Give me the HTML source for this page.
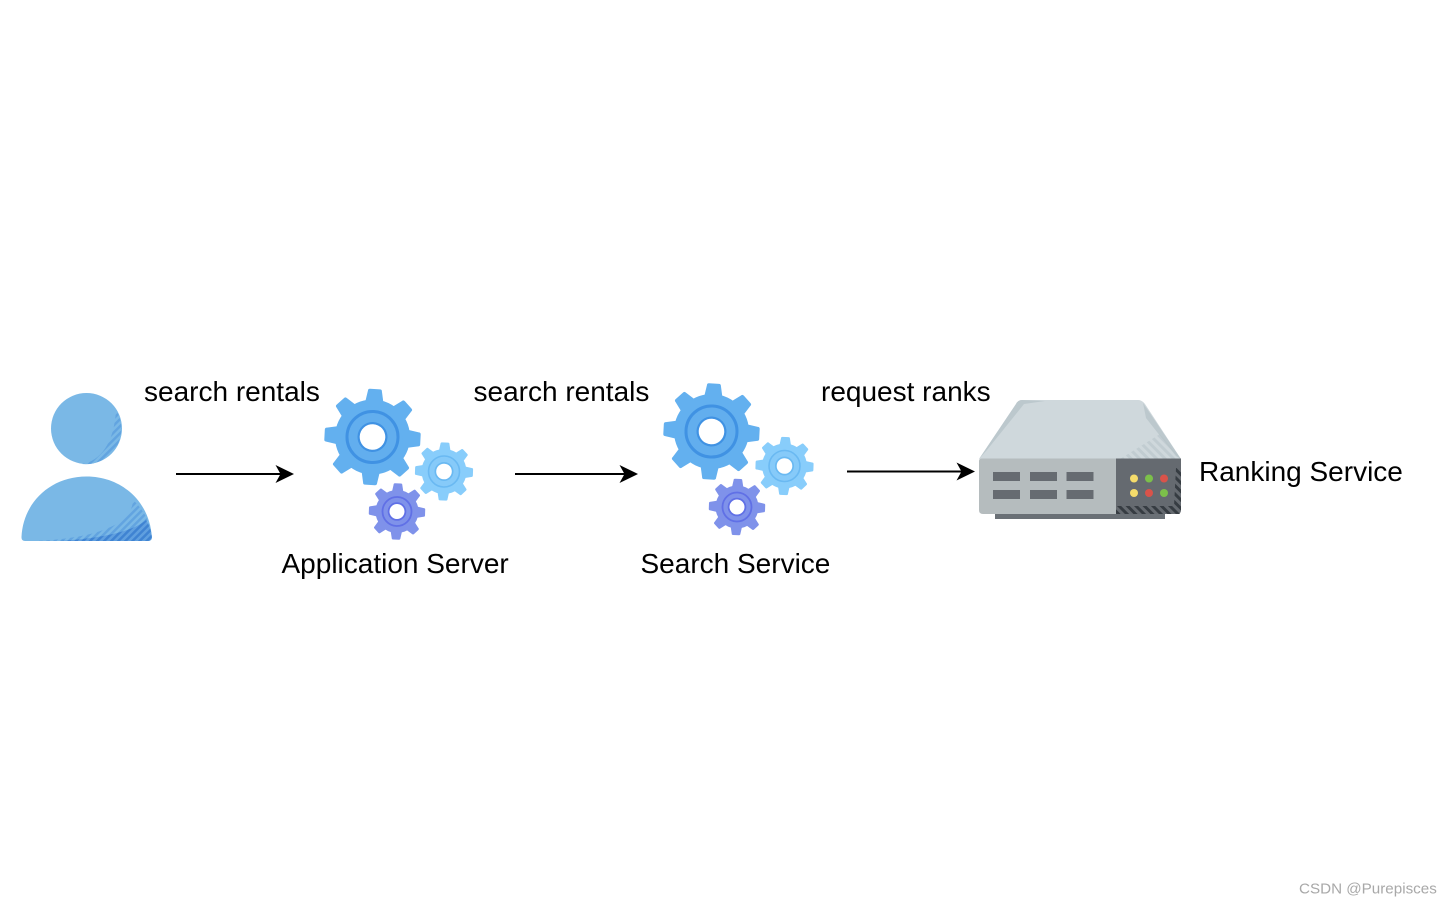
<!DOCTYPE html>
<html>
<head>
<meta charset="utf-8">
<style>
html,body{margin:0;padding:0;background:#fff;}
svg{display:block;}
text{font-family:"Liberation Sans",Arial,sans-serif;font-size:28px;fill:#000;}
</style>
</head>
<body>
<svg width="1452" height="906" viewBox="0 0 1452 906" xmlns="http://www.w3.org/2000/svg">
<defs>
<pattern id="h1" width="5" height="5" patternUnits="userSpaceOnUse" patternTransform="rotate(45)"><rect width="5" height="5" fill="#7ab8e6"/><rect width="2.500" height="5" fill="#62a4e0"/></pattern>
<pattern id="h1d" width="5" height="5" patternUnits="userSpaceOnUse" patternTransform="rotate(45)"><rect width="5" height="5" fill="#5f9fdf"/><rect width="2.500" height="5" fill="#3f83d2"/></pattern>
<pattern id="h2" width="6" height="6" patternUnits="userSpaceOnUse" patternTransform="rotate(-45)"><rect width="3" height="6" fill="#363c42"/></pattern>
<pattern id="h3" width="6" height="6" patternUnits="userSpaceOnUse" patternTransform="rotate(-45)"><rect width="3" height="6" fill="#b6c2c8" opacity=".55"/></pattern>
<g id="bt"><path d="M-10 -30 L-7 -46 Q-7 -48 -5 -48 L5 -48 Q7 -48 7 -46 L10 -30Z"/></g>
<g id="st"><path d="M-6.500 -17 L-4.500 -27.500 Q-4.500 -29 -3 -29 L3 -29 Q4.500 -29 4.500 -27.500 L6.500 -17Z"/></g>
<g id="bigGear">
<g fill="#63b0ef">
<circle r="37.500"/>
<use href="#bt"/><use href="#bt" transform="rotate(45)"/><use href="#bt" transform="rotate(90)"/><use href="#bt" transform="rotate(135)"/>
<use href="#bt" transform="rotate(180)"/><use href="#bt" transform="rotate(225)"/><use href="#bt" transform="rotate(270)"/><use href="#bt" transform="rotate(315)"/>
</g>
<circle r="25.500" fill="#62aeee" stroke="#4092e3" stroke-width="3"/>
<circle r="15" fill="#4092e3"/>
<circle r="12.800" fill="#fff"/>
</g>
<g id="lightGear">
<g fill="#88cdfb">
<circle r="22.500"/>
<use href="#st"/><use href="#st" transform="rotate(45)"/><use href="#st" transform="rotate(90)"/><use href="#st" transform="rotate(135)"/>
<use href="#st" transform="rotate(180)"/><use href="#st" transform="rotate(225)"/><use href="#st" transform="rotate(270)"/><use href="#st" transform="rotate(315)"/>
</g>
<circle r="15.500" fill="#86caf9" stroke="#6ab9f2" stroke-width="1.600"/>
<circle r="9.500" fill="#6ab9f2"/>
<circle r="7.800" fill="#fff"/>
</g>
<g id="purpleGear">
<g fill="#7f92ea">
<circle r="21.500"/>
<g transform="scale(.97)"><use href="#st"/><use href="#st" transform="rotate(45)"/><use href="#st" transform="rotate(90)"/><use href="#st" transform="rotate(135)"/>
<use href="#st" transform="rotate(180)"/><use href="#st" transform="rotate(225)"/><use href="#st" transform="rotate(270)"/><use href="#st" transform="rotate(315)"/></g>
</g>
<circle r="14.500" fill="#7f92ea" stroke="#6070e6" stroke-width="1.800"/>
<circle r="9.300" fill="#6070e6"/>
<circle r="7.500" fill="#fff"/>
</g>
</defs>

<!-- person -->
<circle cx="86.500" cy="428.500" r="35.500" fill="#7ab8e6"/>
<path d="M116 410 A35.500 35.500 0 0 1 82 464 C100 461 114 444 116 410Z" fill="url(#h1)"/>
<path d="M21.500 537 C23 503 50 476.500 86.500 476.500 C123 476.500 150 503 151.800 537 Q152 541 148 541 L25 541 Q21.300 541 21.500 537Z" fill="#7ab8e6"/>
<path d="M133 500 C145 511 151 525 151.800 537 Q152 541 148 541 L36 541 C80 539 132 530 133 500Z" fill="url(#h1)"/>
<path d="M146 520 C150 527 151.500 532 151.800 537 Q152 541 148 541 L60 541 C90 539 130 534 146 520Z" fill="url(#h1d)"/>

<!-- gears -->
<use href="#bigGear" transform="translate(372.500 437) rotate(3)"/>
<use href="#lightGear" transform="translate(444 471.500) rotate(2)"/>
<use href="#purpleGear" transform="translate(397 511.500) rotate(2)"/>
<use href="#bigGear" transform="translate(711.500 431.500) rotate(3)"/>
<use href="#lightGear" transform="translate(784.500 466) rotate(2)"/>
<use href="#purpleGear" transform="translate(737 507) rotate(2)"/>

<!-- server -->
<path d="M1022 400 L1138 400 Q1142 400 1145 404 L1181 459 L979 459 L1016 404 Q1018 400 1022 400Z" fill="#cfd8dc"/>
<path d="M979 459 L1016 404 Q1018 400 1022 400 L1045 401 L1024 404 L987 450Z" fill="#bcc8cd"/>
<path d="M1143 403 L1181 459 L1176 456 L1146 418Z" fill="#bcc8cd"/>
<path d="M1120 459 L1181 459 L1160 434Z" fill="url(#h3)"/>
<rect x="995" y="512" width="170" height="7" fill="#6a7076"/>
<path d="M982 458.500 L1117 458.500 L1117 514 L983 514 Q979 514 979 510 L979 461 Q979 458.500 982 458.500Z" fill="#b5bcbe"/>
<path d="M1116 458.500 L1181 458.500 L1181 510 Q1181 514 1177 514 L1116 514Z" fill="#656a70"/>
<path d="M1116 506 L1174 506 L1176 468 L1181 468 L1181 514 L1116 514Z" fill="url(#h2)"/>
<g fill="#666b71">
<rect x="993" y="472" width="27" height="9"/><rect x="1030" y="472" width="27" height="9"/><rect x="1066.500" y="472" width="27" height="9"/>
<rect x="993" y="490" width="27" height="9"/><rect x="1030" y="490" width="27" height="9"/><rect x="1066.500" y="490" width="27" height="9"/>
</g>
<circle cx="1134" cy="478.500" r="4" fill="#f5dc6b"/>
<circle cx="1149" cy="478.500" r="4" fill="#7cc04a"/>
<circle cx="1164" cy="478.500" r="4" fill="#d9534a"/>
<circle cx="1134" cy="493" r="4" fill="#f5dc6b"/>
<circle cx="1149" cy="493" r="4" fill="#d9534a"/>
<circle cx="1164" cy="493" r="4" fill="#7cc04a"/>

<!-- arrows -->
<g stroke="#000" stroke-width="2" fill="none">
<line x1="176" y1="474" x2="284" y2="474"/>
<line x1="515" y1="474" x2="628" y2="474"/>
<line x1="847" y1="471.500" x2="965" y2="471.500"/>
</g>
<path d="M294 474 L275.500 465 L280.500 474 L275.500 483Z" fill="#000"/>
<path d="M638 474 L619.500 465 L624.500 474 L619.500 483Z" fill="#000"/>
<path d="M975 471.500 L956.500 462.500 L961.500 471.500 L956.500 480.500Z" fill="#000"/>

<!-- labels -->
<text x="144" y="401">search rentals</text>
<text x="473.500" y="401">search rentals</text>
<text x="821" y="401">request ranks</text>
<text x="281.500" y="573">Application Server</text>
<text x="640.500" y="573">Search Service</text>
<text x="1199" y="481">Ranking Service</text>
<text x="1299" y="893.500" style="font-size:15.200px;fill:#a8a8a8">CSDN @Purepisces</text>
</svg>
</body>
</html>
